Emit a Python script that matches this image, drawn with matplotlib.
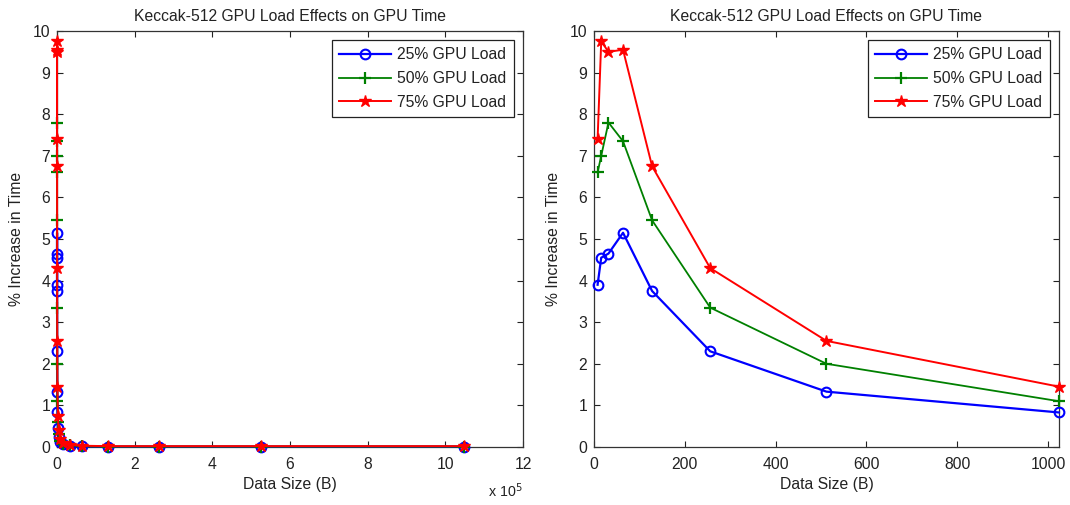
import matplotlib
matplotlib.use("Agg")
import matplotlib.pyplot as plt
from matplotlib.ticker import FuncFormatter, MultipleLocator

plt.rcParams['font.family'] = ['Liberation Sans', 'DejaVu Sans']

data_size = [8, 16, 32, 64, 128, 256, 512, 1024, 2048, 4096, 8192, 16384,
             32768, 65536, 131072, 262144, 524288, 1048576]
load_25 = [3.9, 4.55, 4.65, 5.15, 3.75, 2.3, 1.33, 0.83, 0.45, 0.25, 0.12,
           0.06, 0.03, 0.02, 0.01, 0.01, 0.01, 0.01]
load_50 = [6.6, 7.0, 7.8, 7.35, 5.45, 3.35, 2.0, 1.1, 0.6, 0.3, 0.15,
           0.08, 0.04, 0.02, 0.01, 0.01, 0.01, 0.01]
load_75 = [7.4, 9.75, 9.5, 9.55, 6.75, 4.3, 2.55, 1.45, 0.75, 0.4, 0.2,
           0.1, 0.05, 0.03, 0.02, 0.02, 0.02, 0.02]
labels = ['25% GPU Load', '50% GPU Load', '75% GPU Load']
title = 'Keccak-512 GPU Load Effects on GPU Time'
zoom_max = 1024

fig = plt.figure(figsize=(10.7, 5.05), dpi=100)
axL = fig.add_axes([0.0533, 0.1149, 0.4355, 0.8237])
axR = fig.add_axes([0.5551, 0.1149, 0.4346, 0.8237])

FS = 11.3
for ax, nmax in ((axL, None), (axR, zoom_max)):
    if nmax is None:
        n = len(data_size)
    else:
        n = sum(1 for v in data_size if v <= nmax)
    xs = data_size[:n]
    ax.plot(xs, load_25[:n], color=(0, 0, 1), lw=1.6, marker='o', ms=7,
            mfc='none', mew=1.5, label=labels[0], clip_on=False, zorder=3)
    ax.plot(xs, load_50[:n], color=(0, 0.5, 0), lw=1.3, marker='+', ms=9,
            mew=1.6, label=labels[1], clip_on=False, zorder=3)
    ax.plot(xs, load_75[:n], color=(1, 0, 0), lw=1.4, marker='*', ms=9,
            mew=1.0, label=labels[2], clip_on=False, zorder=3)
    ax.set_ylim(0, 10)
    ax.yaxis.set_major_locator(MultipleLocator(1))
    ax.set_title(title, fontsize=FS, color='#222222', pad=7)
    ax.set_xlabel('Data Size (B)', fontsize=FS, color='#222222', labelpad=4)
    ax.set_ylabel('% Increase in Time', fontsize=FS, color='#222222', labelpad=6)
    ax.tick_params(direction='in', top=True, right=True, labelsize=FS,
                   colors='#222222', length=4, width=0.8)
    ax.tick_params(axis='x', pad=7)
    ax.tick_params(axis='y', pad=5)
    for s in ax.spines.values():
        s.set_color('#333333')
        s.set_linewidth(0.9)
    leg = ax.legend(loc='upper right', fontsize=FS, frameon=True, fancybox=False,
                    edgecolor='#222222', framealpha=1, handlelength=3.3,
                    borderaxespad=0.6, labelspacing=0.55, handletextpad=0.4,
                    borderpad=0.45)
    leg.get_frame().set_linewidth(0.9)
    leg.set_zorder(5)
    for t in leg.get_texts():
        t.set_color('#222222')

axL.set_xlim(0, 12e5)
axL.xaxis.set_major_locator(MultipleLocator(2e5))
axL.xaxis.set_major_formatter(FuncFormatter(lambda v, p: f'{v/1e5:g}'))
axL.text(1.0, -0.105, r'x 10$^5$', transform=axL.transAxes, ha='right',
         va='center', fontsize=FS - 1, color='#222222')

axR.set_xlim(0, zoom_max)
axR.xaxis.set_major_locator(MultipleLocator(200))

fig.savefig('out.png', dpi=100)
